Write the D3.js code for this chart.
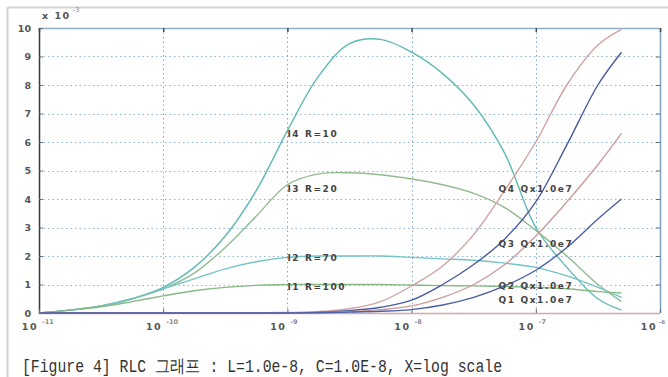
<!DOCTYPE html>
<html><head><meta charset="utf-8">
<script src="https://cdn.jsdelivr.net/npm/d3@7"></script>
<style>
body{margin:0;background:#fff;}
svg{display:block;}
</style></head>
<body>
<svg id="c" width="668" height="377"></svg>
<script>
// ---- data ----
const xExp = [-11,-10.75,-10.5,-10.25,-10,-9.75,-9.5,-9.25,-9,-8.75,-8.5,-8.25,-8,-7.75,-7.5,-7.25,-7,-6.75,-6.5,-6.31];
const I4 = [0,0.1,0.25,0.5,0.9,1.6,2.7,4.3,6.4,8.3,9.45,9.6,9.15,8.4,7.3,5.6,3.0,1.6,0.5,0.1];
const I3 = [0,0.1,0.25,0.5,0.85,1.4,2.3,3.4,4.5,4.88,4.92,4.85,4.7,4.5,4.2,3.7,2.9,2.0,1.0,0.4];
const I2 = [0,0.1,0.25,0.5,0.85,1.2,1.55,1.8,1.95,2.0,2.0,2.0,1.95,1.9,1.85,1.75,1.6,1.3,0.9,0.55];
const I1 = [0,0.1,0.22,0.4,0.6,0.78,0.9,0.97,1.0,1.0,1.0,1.0,0.98,0.96,0.95,0.93,0.9,0.85,0.75,0.7];
const Q4 = [0,0,0,0,0,0,0,0.01,0.02,0.05,0.15,0.4,0.95,1.65,2.75,4.3,6.0,8.0,9.4,9.95];
const Q3 = [0,0,0,0,0,0,0,0,0.01,0.03,0.08,0.2,0.45,1.0,1.7,2.6,3.9,5.9,8.0,9.15];
const Q2 = [0,0,0,0,0,0,0,0,0,0.02,0.05,0.12,0.25,0.55,1.0,1.7,2.7,3.9,5.2,6.3];
const Q1 = [0,0,0,0,0,0,0,0,0,0.01,0.03,0.06,0.12,0.28,0.55,0.95,1.5,2.3,3.3,4.0];
const seriesNames = ["I4 R=10","I3 R=20","I2 R=70","I1 R=100","Q4 Qx1.0e7","Q3 Qx1.0e7","Q2 Qx1.0e7","Q1 Qx1.0e7"];
const labelPos = [[-9,6.3],[-9,4.4],[-9,1.95],[-9,0.95],[-7.3,4.4],[-7.3,2.45],[-7.3,1.0],[-7.3,0.5]];
const xTickExp = [-11,-10,-9,-8,-7,-6];
const yTicks = [0,1,2,3,4,5,6,7,8,9,10];
const caption = "[Figure 4] RLC 그래프 : L=1.0e-8, C=1.0E-8, X=log scale";

const seriesVals = [I4,I3,I2,I1,Q4,Q3,Q2,Q1];
const colors = ["#5fb9b6","#92bb8f","#72c3c6","#86b985","#cfa3a1","#4a5aa0","#cc9c9c","#4a5fa6"];

const svg = d3.select("#c");
const L=39, R=660, T=28, B=313;
const x = d3.scaleLog().domain([1e-11,1e-6]).range([L,R]);
const y = d3.scaleLinear().domain([0,10]).range([B,T]);

// outer frame
svg.append("line").attr("x1",8).attr("x2",668).attr("y1",7.5).attr("y2",7.5).attr("stroke","#d4d4d4").attr("stroke-width",2);
svg.append("line").attr("x1",7.5).attr("x2",7.5).attr("y1",7).attr("y2",377).attr("stroke","#d4d4d4").attr("stroke-width",2);

// grid
const g = svg.append("g");
g.selectAll(".hg").data(yTicks.filter(d=>d>0&&d<10)).join("line")
 .attr("x1",L).attr("x2",R).attr("y1",d=>Math.round(y(d))+0.5).attr("y2",d=>Math.round(y(d))+0.5)
 .attr("stroke","#8fb6d6").attr("stroke-width",1).attr("stroke-dasharray","1.5,3");
g.selectAll(".vg").data(xTickExp.filter(d=>d>-11&&d<-6)).join("line")
 .attr("x1",d=>Math.round(x(Math.pow(10,d)))+0.5).attr("x2",d=>Math.round(x(Math.pow(10,d)))+0.5)
 .attr("y1",T).attr("y2",B)
 .attr("stroke","#7fa8cc").attr("stroke-width",1).attr("stroke-dasharray","1.5,3");

// frame
svg.append("line").attr("x1",L).attr("x2",R).attr("y1",T+0.5).attr("y2",T+0.5).attr("stroke","#8fb0c8").attr("stroke-width",1.3);
svg.append("line").attr("x1",R+0.5).attr("x2",R+0.5).attr("y1",T).attr("y2",B).attr("stroke","#7e9fbc").attr("stroke-width",1.5);
svg.append("line").attr("x1",L).attr("x2",R).attr("y1",B+0.5).attr("y2",B+0.5).attr("stroke","#d9a6a6").attr("stroke-width",1.5);
svg.append("line").attr("x1",L+0.5).attr("x2",L+0.5).attr("y1",T).attr("y2",B+1).attr("stroke","#3a3a3a").attr("stroke-width",1.5);

// ticks
const yAx = d3.axisLeft(y).tickValues(yTicks).tickSize(-4).tickPadding(8).tickFormat(d3.format("d"));
const ya = svg.append("g").attr("transform",`translate(${L},0)`).call(yAx);
ya.select(".domain").remove();
ya.selectAll("line").attr("stroke","#5a6e82");
ya.selectAll("text").attr("font-family","DejaVu Sans, sans-serif").attr("font-weight","bold").attr("font-size","9.5px").attr("fill","#555").attr("x",-8);
const yAxR = d3.axisRight(y).tickValues(yTicks.filter(d=>d>0&&d<10)).tickSize(-4).tickFormat("");
const yr = svg.append("g").attr("transform",`translate(${R},0)`).call(yAxR);
yr.select(".domain").remove(); yr.selectAll("line").attr("stroke","#5a6e82");

const xAx = d3.axisBottom(x).tickValues(xTickExp.map(e=>Math.pow(10,e))).tickSize(-4).tickPadding(10).tickFormat("");
const xa = svg.append("g").attr("transform",`translate(0,${B})`).call(xAx);
xa.select(".domain").remove(); xa.selectAll("line").attr("stroke","#5a6e82");
const xAxT = d3.axisTop(x).tickValues(xTickExp.map(e=>Math.pow(10,e))).tickSize(-4).tickFormat("");
const xt = svg.append("g").attr("transform",`translate(0,${T})`).call(xAxT);
xt.select(".domain").remove(); xt.selectAll("line").attr("stroke","#3a4a5a").attr("stroke-width",1.5);

// x tick labels with superscripts
const xl = svg.append("g").attr("font-family","DejaVu Sans, sans-serif").attr("font-weight","bold").attr("fill","#555");
xTickExp.forEach((e,i)=>{
  const px = x(Math.pow(10,e));
  const last = i===xTickExp.length-1;
  xl.append("text").attr("x",last?px-3:px-1).attr("y",330).attr("text-anchor","end").attr("font-size","9.5px").attr("letter-spacing","1.5px").text("10");
  xl.append("text").attr("x",last?px-1:px+3).attr("y",324).attr("font-size",last?"5.5px":"6.5px").attr("fill","#888").text(String(e));
});

// y multiplier label
svg.append("text").attr("x",42).attr("y",19).attr("font-family","DejaVu Sans, sans-serif").attr("font-weight","bold").attr("font-size","9.5px").attr("fill","#555").attr("letter-spacing","1.5px").text("x 10");
svg.append("text").attr("x",73).attr("y",12).attr("font-family","DejaVu Sans, sans-serif").attr("font-size","6.5px").attr("fill","#888").text("-3");

// lines
const line = d3.line().x((d,i)=>x(Math.pow(10,xExp[i]))).y(d=>y(d)).curve(d3.curveCatmullRom.alpha(0.5));
svg.append("g").selectAll("path").data(seriesVals).join("path")
  .attr("d",d=>line(d)).attr("fill","none")
  .attr("stroke",(d,i)=>colors[i]).attr("stroke-width",1.4);

// labels
svg.append("g").selectAll("text").data(seriesNames).join("text")
  .attr("x",(d,i)=>x(Math.pow(10,labelPos[i][0])))
  .attr("y",(d,i)=>y(labelPos[i][1])+4)
  .attr("font-family","DejaVu Sans, sans-serif").attr("font-weight","bold")
  .attr("font-size","9px").attr("letter-spacing","1.6px").attr("fill","#444")
  .text(d=>d);

// caption
svg.append("text").attr("x",22).attr("y",372)
  .attr("font-family","Liberation Mono, DejaVu Sans Mono, monospace")
  .attr("font-size","17.5px").attr("fill","#333")
  .attr("textLength",480).attr("lengthAdjust","spacingAndGlyphs")
  .text(caption);
</script>
</body></html>
